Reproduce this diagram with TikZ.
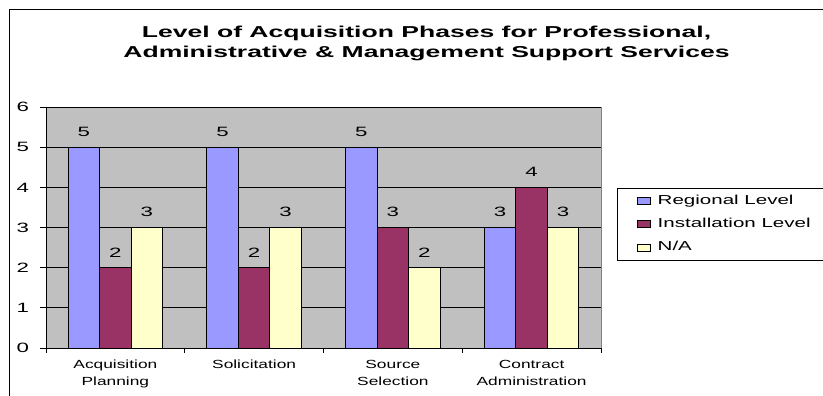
\documentclass[tikz,border=0pt]{standalone}
\usepackage{fontspec}
\setmainfont{Liberation Sans}
\definecolor{plotgray}{HTML}{C0C0C0}
\definecolor{bordergray}{HTML}{808080}
\definecolor{reg}{HTML}{9999FF}
\definecolor{inst}{HTML}{993366}
\definecolor{na}{HTML}{FFFFCC}
\newcommand{\titletxt}[1]{{\fontsize{15.8}{18}\selectfont\bfseries\scalebox{1.68}[1]{#1}}}
\newcommand{\cattxt}[1]{{\fontsize{11.8}{14}\selectfont\scalebox{1.47}[1]{#1}}}
\newcommand{\legtxt}[1]{{\fontsize{13}{15}\selectfont\scalebox{1.58}[1]{#1}}}
\newcommand{\digtxt}[1]{{\fontsize{13.5}{16}\selectfont\scalebox{1.65}[1]{#1}}}
\tikzset{
  bar/.style={draw=black,line width=0.8pt},
  grid line/.style={draw=black,line width=0.8pt},
  txt/.style={inner sep=0pt,outer sep=0pt},
}
\begin{document}
\begin{tikzpicture}[x=1pt,y=-1pt]
\useasboundingbox (0,0) rectangle (823,396);
\fill[white] (0,0) rectangle (823,396);
% outer chart border
\draw[line width=0.8pt,black] (9,420) -- (9,9) -- (840,9);
% title
\node[txt,anchor=base] (title1) at (426.5,37.7) {\titletxt{Level of Acquisition Phases for Professional,}};
\node[txt,anchor=base] (title2) at (426.5,57.3) {\titletxt{Administrative \& Management Support Services}};
% plot area
\begin{scope}[xshift=46pt,yshift=-348pt,x=1pt,y=40.1667pt]
  \fill[plotgray] (0,0) rectangle (555,6);
  \foreach \v in {1,...,6} \draw[grid line] (0,\v) -- (555,\v);
  \draw[bordergray,line width=0.8pt] (555,0) -- (555,6);
  % bars
  \foreach \i/\a/\b/\c in {0/5/2/3,1/5/2/3,2/5/3/2,3/3/4/3} {
    \pgfmathsetmacro\xo{\i*138.75+22.125}
    \filldraw[bar,fill=reg] (\xo,0) rectangle ++(31.5,\a);
    \filldraw[bar,fill=inst] ({\xo+31.5},0) rectangle ++(31.5,\b);
    \filldraw[bar,fill=na] ({\xo+63},0) rectangle ++(31.5,\c);
    \node[txt,anchor=base,yshift=10.6pt] (va\i) at ({\xo+15.75},\a) {\digtxt{\a}};
    \node[txt,anchor=base,yshift=10.6pt] (vb\i) at ({\xo+47.25},\b) {\digtxt{\b}};
    \node[txt,anchor=base,yshift=10.6pt] (vc\i) at ({\xo+78.75},\c) {\digtxt{\c}};
  }
  % axes
  \draw[black,line width=0.8pt] (0,6) -- (0,0) -- (555,0);
  \foreach \v in {0,...,6} {
    \draw[black,line width=0.8pt] (-6pt,\v) -- (0,\v);
    \node[txt,anchor=base east,yshift=-4.8pt] (yl\v) at (-17,\v) {\digtxt{\v}};
  }
  \foreach \i in {0,...,4} \draw[black,line width=0.8pt] ({\i*138.75},0) -- ++(0pt,-5pt);
  % category labels
  \node[txt,anchor=base,yshift=-20.3pt] (c0a) at (69.375,0) {\cattxt{Acquisition}};
  \node[txt,anchor=base,yshift=-37.7pt] (c0b) at (69.375,0) {\cattxt{Planning}};
  \node[txt,anchor=base,yshift=-20.3pt] (c1a) at (208.125,0) {\cattxt{Solicitation}};
  \node[txt,anchor=base,yshift=-20.3pt] (c2a) at (346.875,0) {\cattxt{Source}};
  \node[txt,anchor=base,yshift=-37.7pt] (c2b) at (346.875,0) {\cattxt{Selection}};
  \node[txt,anchor=base,yshift=-20.3pt] (c3a) at (485.625,0) {\cattxt{Contract}};
  \node[txt,anchor=base,yshift=-37.7pt] (c3b) at (485.625,0) {\cattxt{Administration}};
\end{scope}
% legend
\draw[black,line width=0.8pt,fill=white] (617.7,188.3) rectangle (840,260.7);
\filldraw[bar,fill=reg] (637.7,197.5) rectangle (650.7,204.5);
\filldraw[bar,fill=inst] (637.7,220.7) rectangle (650.7,227.7);
\filldraw[bar,fill=na] (637.7,244) rectangle (650.7,251);
\node[txt,anchor=base west] (l1) at (657.7,204.3) {\legtxt{Regional Level}};
\node[txt,anchor=base west] (l2) at (657.7,227.5) {\legtxt{Installation Level}};
\node[txt,anchor=base west] (l3) at (657.7,250.8) {\legtxt{N/A}};
\end{tikzpicture}
\end{document}
